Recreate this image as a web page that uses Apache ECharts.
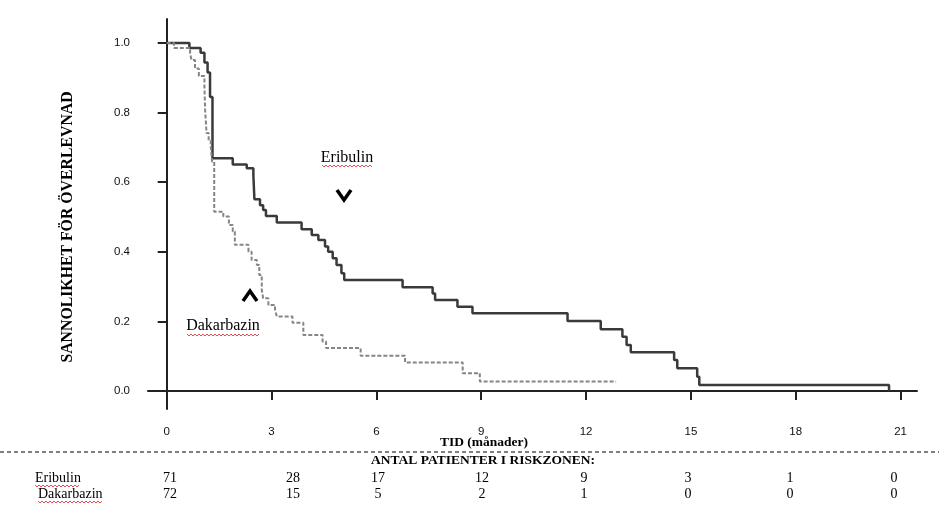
<!DOCTYPE html>
<html>
<head>
<meta charset="utf-8">
<script src="https://cdn.jsdelivr.net/npm/echarts@6/dist/echarts.min.js"></script>
<style>
  html, body { margin: 0; padding: 0; background: #fff; }
  #mainEcharts { width: 939px; height: 511px; }
</style>
</head>
<body>
<div id="mainEcharts"></div>
<script>
// överlevnadskurvor, [tid i månader, sannolikhet efter händelsen]
var eribulin = [
    [0, 1.0], [0.65, 0.986], [0.97, 0.972], [1.08, 0.944], [1.17, 0.915], [1.24, 0.845],
    [1.31, 0.669], [1.89, 0.651], [2.29, 0.640], [2.48, 0.620], [2.51, 0.551], [2.67, 0.534],
    [2.76, 0.520], [2.84, 0.503], [3.15, 0.484], [3.86, 0.465], [4.15, 0.448], [4.34, 0.434],
    [4.53, 0.415], [4.62, 0.400], [4.75, 0.381], [4.86, 0.362], [5.0, 0.338], [5.08, 0.319],
    [6.75, 0.298], [7.61, 0.280], [7.68, 0.261], [8.32, 0.242], [8.75, 0.223], [11.47, 0.201],
    [12.42, 0.177], [13.04, 0.156], [13.16, 0.132], [13.28, 0.111], [14.52, 0.089], [14.61, 0.065],
    [15.18, 0.041], [15.24, 0.017], [20.67, 0.0]
];
var dakarbazin = [
    [0, 1.0], [0.21, 0.986], [0.67, 0.970], [0.71, 0.951], [0.81, 0.927], [0.92, 0.905],
    [1.08, 0.874], [1.10, 0.807], [1.14, 0.741], [1.20, 0.720], [1.26, 0.702], [1.30, 0.659],
    [1.36, 0.515], [1.62, 0.501], [1.78, 0.477], [1.89, 0.458], [1.95, 0.420], [2.34, 0.400],
    [2.43, 0.376], [2.58, 0.362], [2.65, 0.333], [2.72, 0.290], [2.76, 0.266], [2.91, 0.247],
    [3.10, 0.233], [3.15, 0.214], [3.60, 0.196], [3.91, 0.161], [4.46, 0.142], [4.56, 0.123],
    [5.55, 0.101], [6.82, 0.082], [8.47, 0.051], [8.96, 0.027], [12.86, 0.027]
];

var xTicks = [0, 3, 6, 9, 12, 15, 18, 21];
var yTicks = [0, 0.2, 0.4, 0.6, 0.8, 1.0];

// antal patienter i riskzonen
var riskNames = ['Eribulin', 'Dakarbazin'];
var riskEribulin = [71, 28, 17, 12, 9, 3, 1, 0];
var riskDakarbazin = [72, 15, 5, 2, 1, 0, 0, 0];

// layout (pixlar)
var riskCols = [170, 293, 378, 482, 584, 688, 790, 894];
var riskRowsY = [478, 494];
var riskNameX = [35, 38];

var serif = '"Liberation Serif", "Times New Roman", serif';
var sans = '"Liberation Sans", Arial, sans-serif';

// röd vågig understrykning (stavningskontroll)
function wavy(x0, x1, y) {
    var pts = [];
    var up = true;
    for (var x = x0; x <= x1; x += 2) {
        pts.push([x, up ? y : y + 2]);
        up = !up;
    }
    return {
        type: 'polyline',
        silent: true,
        shape: { points: pts },
        style: { stroke: '#e02020', lineWidth: 0.8, fill: null }
    };
}

function chevron(points) {
    return {
        type: 'polyline',
        silent: true,
        shape: { points: points },
        style: { stroke: '#000', lineWidth: 3.5, fill: null, lineJoin: 'miter' }
    };
}

function txt(x, y, s, font, align) {
    return {
        type: 'text',
        silent: true,
        x: x,
        y: y,
        style: {
            text: s,
            font: font,
            fill: '#000',
            align: align || 'center',
            verticalAlign: 'middle'
        }
    };
}

var yTitle = txt(68, 227, 'SANNOLIKHET FÖR ÖVERLEVNAD', 'bold 15.8px ' + serif);
yTitle.rotation = Math.PI / 2;

var graphics = [
    yTitle,
    txt(347, 158, 'Eribulin', '16px ' + serif),
    wavy(322, 373, 165),
    chevron([[337, 190], [344, 200], [351, 190]]),
    txt(223, 326, 'Dakarbazin', '16px ' + serif),
    wavy(187, 259, 334),
    chevron([[243, 301], [250, 291], [257, 301]]),
    txt(484, 443, 'TID (månader)', 'bold 13.5px ' + serif),
    {
        type: 'line',
        silent: true,
        shape: { x1: 0, y1: 452, x2: 939, y2: 452 },
        style: { stroke: '#000', lineWidth: 1, lineDash: [4, 3] }
    },
    txt(483, 461, 'ANTAL PATIENTER I RISKZONEN:', 'bold 13.5px ' + serif)
];

var riskRows = [riskEribulin, riskDakarbazin];
for (var r = 0; r < riskRows.length; r++) {
    graphics.push(txt(riskNameX[r], riskRowsY[r], riskNames[r], '14px ' + serif, 'left'));
    var nameW = riskNames[r] === 'Eribulin' ? 45 : 65;
    graphics.push(wavy(riskNameX[r], riskNameX[r] + nameW, riskRowsY[r] + 7));
    for (var c = 0; c < riskRows[r].length; c++) {
        graphics.push(txt(riskCols[c], riskRowsY[r], String(riskRows[r][c]), '14px ' + serif));
    }
}

var myChart = echarts.init(document.getElementById('mainEcharts'));

option = {
    backgroundColor: '#fff',
    animation: false,
    grid: {
        left: 148,
        right: 22,
        top: 19,
        bottom: 102
    },
    xAxis: {
        type: 'value',
        min: -0.535,
        max: 21.47,
        splitLine: { show: false },
        axisLine: { lineStyle: { color: '#222', width: 2 } },
        axisTick: {
            customValues: xTicks,
            length: 9,
            lineStyle: { color: '#222', width: 2 }
        },
        axisLabel: {
            customValues: xTicks,
            margin: 17,
            color: '#111',
            fontSize: 11.5,
            fontFamily: sans
        }
    },
    yAxis: {
        type: 'value',
        min: -0.052,
        max: 1.069,
        splitLine: { show: false },
        axisLine: { show: true, lineStyle: { color: '#222', width: 2 } },
        axisTick: {
            show: true,
            customValues: yTicks,
            length: 9,
            lineStyle: { color: '#222', width: 2 }
        },
        axisLabel: {
            customValues: yTicks,
            margin: 18,
            color: '#111',
            fontSize: 11.5,
            fontFamily: sans,
            formatter: function (v) {
                return v.toFixed(1);
            }
        }
    },
    series: [
        {
            name: 'Eribulin',
            type: 'line',
            step: 'end',
            data: eribulin,
            symbol: 'none',
            lineStyle: { color: '#3a3a3a', width: 2.5 }
        },
        {
            name: 'Dakarbazin',
            type: 'line',
            step: 'end',
            data: dakarbazin,
            symbol: 'none',
            lineStyle: { color: '#858585', width: 2, type: [4, 2] }
        }
    ],
    graphic: graphics
};

myChart.setOption(option);
</script>
</body>
</html>
